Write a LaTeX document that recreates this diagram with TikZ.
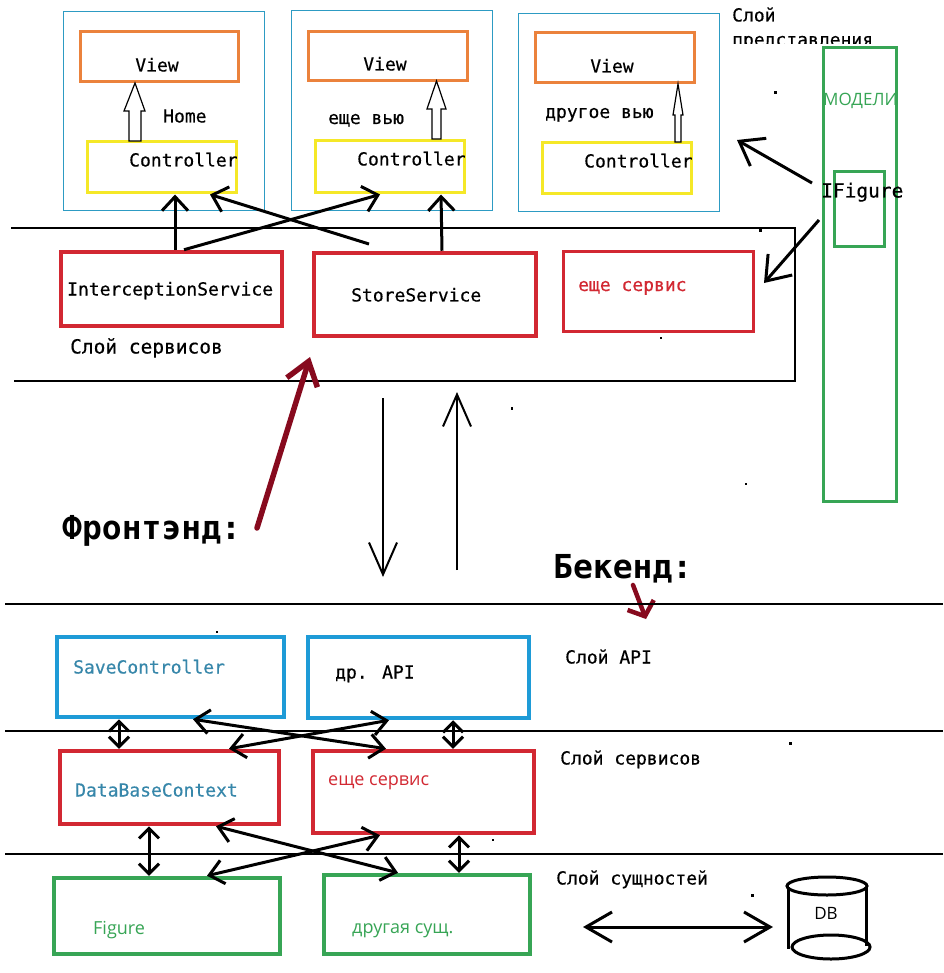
\documentclass[tikz,border=0pt]{standalone}
\usepackage{fontspec}
\setmainfont{Open Sans}
\newfontfamily\monof[FakeBold=0.4]{DejaVu Sans Mono}
\newfontfamily\bigmonof{DejaVu Sans Mono}
\usetikzlibrary{arrows.meta,fit}
\definecolor{panelc}{RGB}{45,155,195}
\definecolor{viewc}{RGB}{235,130,60}
\definecolor{ctrlc}{RGB}{245,232,40}
\definecolor{svcc}{RGB}{210,40,50}
\definecolor{apic}{RGB}{30,155,215}
\definecolor{entc}{RGB}{55,165,85}
\definecolor{tealc}{RGB}{55,135,170}
\definecolor{dredc}{RGB}{135,10,30}
\begin{document}
\begin{tikzpicture}[x=1pt,y=-1pt,
  panel/.style={draw=panelc, line width=1pt, inner sep=0pt},
  viewbox/.style={draw=viewc, line width=3pt, inner sep=0pt},
  ctrlbox/.style={draw=ctrlc, line width=3pt, inner sep=0pt},
  svcbox/.style={draw=svcc, line width=4.5pt, inner sep=0pt},
  svcthin/.style={draw=svcc, line width=3pt, inner sep=0pt},
  apibox/.style={draw=apic, line width=4.5pt, inner sep=0pt},
  entbox/.style={draw=entc, line width=4.5pt, inner sep=0pt},
  modbox/.style={draw=entc, line width=3pt, inner sep=0pt},
  layer/.style={draw=black, line width=1.3pt},
  hollow/.style={draw=black, line width=1.2pt, fill=white},
  mt/.style={font=\monof\fontsize{18}{20}\selectfont, inner sep=0pt, anchor=west, text height=13pt, text depth=0pt},
  mtl/.style={mt, font=\monof\fontsize{19.5}{22}\selectfont},
  st/.style={font=\fontsize{18}{20}\selectfont, inner sep=0pt, anchor=west, text height=13pt, text depth=0pt},
  big/.style={font=\bigmonof\bfseries\fontsize{33}{36}\selectfont, inner sep=0pt, anchor=west, text height=24pt, text depth=0pt},
  arr/.style={draw=black, line width=3pt, -{Straight Barb[length=14pt,width=26pt]}},
  darr/.style={draw=black, line width=3pt, {Straight Barb[length=10pt,width=20pt]}-{Straight Barb[length=10pt,width=20pt]}},
  xarr/.style={draw=black, line width=3pt, {Straight Barb[length=14pt,width=24pt]}-{Straight Barb[length=14pt,width=24pt]}},
  thinarr/.style={draw=black, line width=2pt, -{Straight Barb[length=32pt,width=28pt]}},
  redarr/.style={draw=dredc, line width=5.5pt, line cap=round, -{Straight Barb[length=22pt,width=32pt]}},
  ifarr/.style={draw=black, line width=3pt, -{Straight Barb[length=22pt,width=32pt]}},
  dbarr/.style={draw=black, line width=3pt, {Straight Barb[length=26pt,width=30pt]}-{Straight Barb[length=26pt,width=30pt]}}
]
\useasboundingbox[fill=white] (0,0) rectangle (943,973);

% ---------- presentation layer ----------
\node[panel, fit={(63,12) (264,211)}] (p1) {};
\node[panel, fit={(291,11) (492,211)}] (p2) {};
\node[panel, fit={(518,14) (719,212)}] (p3) {};

\node[viewbox, fit={(80,32) (238,82)}] (v1) {};
\node[viewbox, fit={(308,32) (467,81)}] (v2) {};
\node[viewbox, fit={(535,33) (694,83)}] (v3) {};

\node[ctrlbox, fit={(87,142) (236,193)}] (c1) {};
\node[ctrlbox, fit={(315,141) (464,193)}] (c2) {};
\node[ctrlbox, fit={(542,143) (691,194)}] (c3) {};

% hollow arrows controller -> view
\draw[hollow] (129,141) -- (129,111) -- (124,111) -- (135,83) -- (145,111) -- (141,111) -- (141,141) -- cycle;
\draw[hollow] (432,139) -- (432,109) -- (427,109) -- (436.5,81) -- (446,109) -- (441,109) -- (441,139) -- cycle;
\draw[hollow] (675,142) -- (675,115) -- (673,115) -- (678,84) -- (683,115) -- (681,115) -- (681,142) -- cycle;

\node[mt, anchor=center] (tv1) at (157,65) {View};
\node[mt, anchor=center] (tv2) at (385,64) {View};
\node[mt, anchor=center] (tv3) at (612,66) {View};
\node[mt] (tc1) at (129,160) {Controller};
\node[mt] (tc2) at (357,159) {Controller};
\node[mt] (tc3) at (584,161) {Controller};
\node[mt] (thome) at (163,116) {Home};
\node[mt] (tev) at (328,117.5) {еще вью};
\node[mt] (tdv) at (545,111.5) {другое вью};

\node[mt] (tsl1) at (732,15) {Слой};
\node[mt] (tsl2) at (732,39.5) {представления};
\fill[white] (728,44.5) rectangle (892,50);

% ---------- service layer (frontend) ----------
\draw[layer] (11,228) -- (795,228) -- (795,381) -- (14,381);

\node[svcbox, fit={(61,252) (282,326)}] (ins) {};
\node[svcbox, fit={(314,253) (536,336)}] (ss) {};
\node[svcthin, fit={(563,252) (753,331)}] (es1) {};

\node[mt] (tins) at (67,289) {InterceptionService};
\node[mt] (tss) at (351,295) {StoreService};
\node[mt, text=svcc] (tes1) at (578,284.5) {еще сервис};
\node[mtl] (tslsvc) at (70,347) {Слой сервисов};

\coordinate (ssTop) at (369,244);
\draw[arr] (ins.north -| 175,0) -- (c1.south -| 175,0);
\draw[arr] (ins.north -| 184,0) -- (c2.south -| 380,0);
\draw[arr] (ssTop) -- (c1.south -| 210,0);
\draw[arr] (ss.north -| 442,0) -- (c2.south -| 441,0);

% ---------- models ----------
\node[modbox, fit={(823,48) (896,501)}] (mod) {};
\node[modbox, fit={(834,172) (884,247)}] (ifbox) {};
\node[st, text=entc, font=\fontsize{17}{20}\selectfont] (tmod) at (823,99) {МОДЕЛИ};
\node[mtl] (tif) at (821,191) {IFigure};
\coordinate (ifA) at (812,183);
\coordinate (ifAt) at (737,140);
\coordinate (ifB) at (819,220);
\coordinate (ifBt) at (764,283);
\draw[ifarr] (ifA) -- (ifAt);
\draw[ifarr] (ifB) -- (ifBt);

% ---------- frontend / backend ----------
\node[big] (tfront) at (62,527) {Фронтэнд:};
\node[big] (tback) at (553,566) {Бекенд:};
\coordinate (redS) at (257,528);
\coordinate (redE) at (310,357);
\draw[redarr] (redS) -- (redE);
\coordinate (red2S) at (633,585);
\coordinate (red2E) at (646,619);
\draw[draw=dredc, line width=4.5pt, line cap=round, -{Straight Barb[length=12pt,width=28pt]}] (red2S) -- (red2E);

\coordinate (dnS) at (383,398);
\coordinate (dnE) at (383,577);
\coordinate (upS) at (457,570);
\coordinate (upE) at (457,392);
\draw[thinarr] (dnS) -- (dnE);
\draw[thinarr] (upS) -- (upE);

\draw[layer] (5,604) -- (943,604);
\draw[layer] (5,731) -- (943,731);
\draw[layer] (5,854) -- (943,854);

% ---------- backend boxes ----------
\node[apibox, fit={(57,637) (284,717)}] (sc) {};
\node[apibox, fit={(308,637) (529,718)}] (api) {};
\node[svcbox, fit={(60,751) (279,824)}] (dbc) {};
\node[svcbox, fit={(313,751) (534,833)}] (es2) {};
\node[entbox, fit={(54,878) (280,954)}] (fig) {};
\node[entbox, fit={(324,875) (530,954)}] (ent2) {};

\node[mt, text=tealc] (tsc) at (73,667) {SaveController};
\node[mt] (tapi) at (335,672) {др. API};
\node[mt, text=tealc] (tdbc) at (75,790) {DataBaseContext};
\node[st, text=svcc] (tes2) at (328,778.5) {еще сервис};
\node[st, text=entc] (tfig) at (93,928) {Figure};
\node[st, text=entc] (tent2) at (352,926.5) {другая сущ.};

\node[mt] (tlapi) at (565,657) {Слой API};
\node[mt] (tlsvc) at (560,758) {Слой сервисов};
\node[mt] (tlent) at (556,878) {Слой сущностей};

\draw[darr] (sc.south -| 119,0) -- (dbc.north -| 119,0);
\draw[darr] (api.south -| 453,0) -- (es2.north -| 453,0);
\draw[xarr] (dbc.north -| 229,0) -- (api.south -| 389,0);
\draw[xarr] (sc.south -| 193,0) -- (es2.north -| 386,0);
\draw[darr] (dbc.south -| 149,0) -- (fig.north -| 149,0);
\draw[darr] (es2.south -| 459,0) -- (ent2.north -| 459,0);
\draw[xarr] (dbc.south -| 216,0) -- (ent2.north -| 398,0);
\draw[xarr] (fig.north -| 207,0) -- (es2.south -| 380,0);

% ---------- DB ----------
\node[inner sep=0pt, fit={(787,876) (870,960)}] (db) {};
\draw[line width=3pt] (788,887) -- (788,949);
\draw[line width=3pt] (866,887) -- (866,946);
\draw[line width=3pt] (827,886) ellipse [x radius=40, y radius=9];
\draw[line width=3pt] (831,947) ellipse [x radius=39, y radius=12];
\node[st, anchor=center, font=\fontsize{17}{20}\selectfont] (tdb) at (826,913) {DB};
\coordinate (dbL) at (583,927);
\coordinate (dbR) at (773,927);
\draw[dbarr] (dbL) -- (dbR);

% ---------- stray dots ----------
\fill (774,91) rectangle ++(3,3);
\fill (511,407) rectangle ++(2,3);
\fill (745,483) rectangle ++(2,2);
\fill (216,631) rectangle ++(2,2);
\fill (660,337) rectangle ++(2,2);
\fill (789,742) rectangle ++(3,3);
\fill (751,894) rectangle ++(3,3);
\fill (492,839) rectangle ++(2,2);
\fill (759,229) rectangle ++(3,3);
\end{tikzpicture}
\end{document}
